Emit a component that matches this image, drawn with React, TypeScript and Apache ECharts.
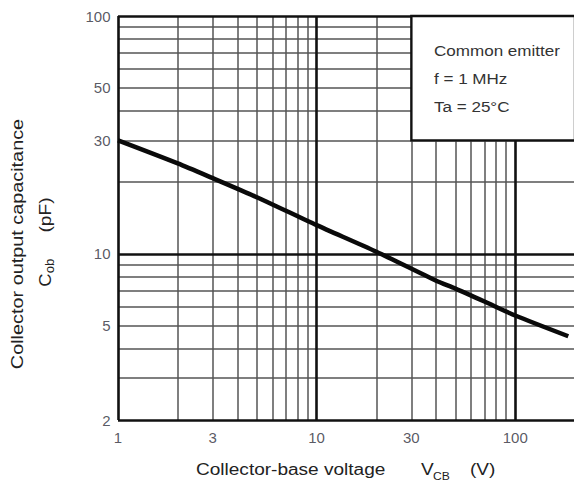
import React, { useEffect, useRef } from "react";
import * as echarts from "echarts";

const voltage = [1, 2, 3, 5, 10, 20, 40, 50, 70, 100, 185];
const capacitance = [30, 24.0, 20.8, 17.3, 13.2, 10.2, 7.7, 7.14, 6.3, 5.5, 4.5];
const xTickLabels = [1, 3, 10, 30, 100];
const yTickLabels = [2, 5, 10, 30, 50, 100];
const xMajorGrid = [1, 10, 100];
const xMinorGrid = [2, 3, 4, 5, 6, 7, 8, 9, 20, 30, 40, 50, 60, 70, 80, 90];
const yMajorGrid = [2, 10, 100];
const yMinorGrid = [3, 4, 5, 6, 7, 8, 9, 20, 30, 40, 50, 60, 70, 80, 90];
const noteLines = ["Common emitter", "f = 1 MHz", "Ta = 25°C"];
const noteBoxCorners = [
  [30, 30],
  [200, 100],
];

const FONT = "Liberation Sans, Arial, sans-serif";

export default function App() {
  const ref = useRef<HTMLDivElement>(null);

  useEffect(() => {
    if (!ref.current) return;
    const chart = echarts.init(ref.current, undefined, { renderer: "svg" });

    const minorStyle = { color: "#555", width: 1.5, type: "solid" };
    const majorStyle = { color: "#111", width: 2.6, type: "solid" };

    const gridLines = [
      ...xMinorGrid.map((v) => ({ xAxis: v, lineStyle: minorStyle })),
      ...yMinorGrid.map((v) => ({ yAxis: v, lineStyle: minorStyle })),
      ...xMajorGrid.map((v) => ({ xAxis: v, lineStyle: majorStyle })),
      ...yMajorGrid.map((v) => ({ yAxis: v, lineStyle: majorStyle })),
    ];

    const titleStyle = { fontSize: 16, fontFamily: FONT, fill: "#222" };

    chart.setOption({
      animation: false,
      backgroundColor: "#fff",
      grid: { left: 118, top: 16, width: 457, height: 404 },
      xAxis: {
        type: "log",
        logBase: 10,
        min: 1,
        max: 200,
        axisLine: { show: false },
        axisTick: { show: false },
        axisLabel: { show: false },
        splitLine: { show: false },
      },
      yAxis: {
        type: "log",
        logBase: 10,
        min: 2,
        max: 100,
        axisLine: { show: false },
        axisTick: { show: false },
        axisLabel: { show: false },
        splitLine: { show: false },
      },
      series: [
        {
          type: "scatter",
          data: [],
          clip: false,
          silent: true,
          z: 2,
          markLine: {
            silent: true,
            z: 2,
            symbol: ["none", "none"],
            label: { show: false },
            data: gridLines,
          },
        },
        {
          type: "scatter",
          data: [],
          clip: false,
          silent: true,
          z: 5,
          markArea: {
            silent: true,
            z: 6,
            label: { show: false },
            itemStyle: { color: "#fff", borderColor: "#111", borderWidth: 2.4, opacity: 1 },
            data: [[{ coord: noteBoxCorners[0] }, { coord: noteBoxCorners[1] }]],
          },
        },
        {
          type: "line",
          data: voltage.map((v, i) => [v, capacitance[i]]),
          smooth: 0.25,
          symbol: "none",
          z: 10,
          lineStyle: { color: "#0a0a0a", width: 4.5 },
          clip: false,
        },
        {
          type: "scatter",
          data: xTickLabels.map((v) => [v, 2]),
          symbolSize: 1,
          itemStyle: { color: "transparent" },
          clip: false,
          silent: true,
          z: 12,
          label: {
            show: true,
            position: "bottom",
            distance: 9,
            fontSize: 15,
            fontFamily: FONT,
            color: "#2e2e3a",
            formatter: (p: any) => String(p.value[0]),
          },
        },
        {
          type: "scatter",
          data: yTickLabels.map((v) => [1, v]),
          symbolSize: 1,
          itemStyle: { color: "transparent" },
          clip: false,
          silent: true,
          z: 12,
          label: {
            show: true,
            position: "left",
            distance: 7,
            fontSize: 15,
            fontFamily: FONT,
            color: "#2e2e3a",
            formatter: (p: any) => String(p.value[1]),
          },
        },
      ],
      graphic: [
        ...noteLines.map((t, i) => ({
          type: "text",
          x: 434,
          y: 50 + i * 28,
          scaleX: 1.1,
          z: 100,
          style: { text: t, fontSize: 15.5, fontFamily: FONT, fill: "#333", verticalAlign: "middle" },
        })),
        {
          type: "text",
          x: 196,
          y: 470,
          scaleX: 1.19,
          z: 100,
          style: { ...titleStyle, text: "Collector-base voltage", verticalAlign: "middle" },
        },
        {
          type: "text",
          x: 421,
          y: 470,
          scaleX: 1.19,
          z: 100,
          style: { ...titleStyle, text: "V", verticalAlign: "middle" },
        },
        {
          type: "text",
          x: 433,
          y: 476,
          scaleX: 1.1,
          z: 100,
          style: { ...titleStyle, fontSize: 11, text: "CB", verticalAlign: "middle" },
        },
        {
          type: "text",
          x: 470,
          y: 470,
          scaleX: 1.19,
          z: 100,
          style: { ...titleStyle, text: "(V)", verticalAlign: "middle" },
        },
        {
          type: "text",
          x: 18,
          y: 244,
          rotation: Math.PI / 2,
          scaleX: 1.24,
          z: 100,
          style: {
            ...titleStyle,
            text: "Collector output capacitance",
            align: "center",
            verticalAlign: "middle",
          },
        },
        {
          type: "text",
          x: 45,
          y: 280,
          rotation: Math.PI / 2,
          scaleX: 1.15,
          z: 100,
          style: { ...titleStyle, text: "C", align: "center", verticalAlign: "middle" },
        },
        {
          type: "text",
          x: 50,
          y: 266,
          rotation: Math.PI / 2,
          scaleX: 1.1,
          z: 100,
          style: { ...titleStyle, fontSize: 12, text: "ob", align: "center", verticalAlign: "middle" },
        },
        {
          type: "text",
          x: 46,
          y: 215,
          rotation: Math.PI / 2,
          scaleX: 1.2,
          z: 100,
          style: { ...titleStyle, text: "(pF)", align: "center", verticalAlign: "middle" },
        },
      ],
    });

    return () => chart.dispose();
  }, []);

  return (
    <div
      style={{
        position: "fixed",
        left: 0,
        top: 0,
        width: 574,
        height: 485,
        overflow: "hidden",
        background: "#fff",
      }}
    >
      <div ref={ref} style={{ width: 580, height: 485 }} />
    </div>
  );
}
